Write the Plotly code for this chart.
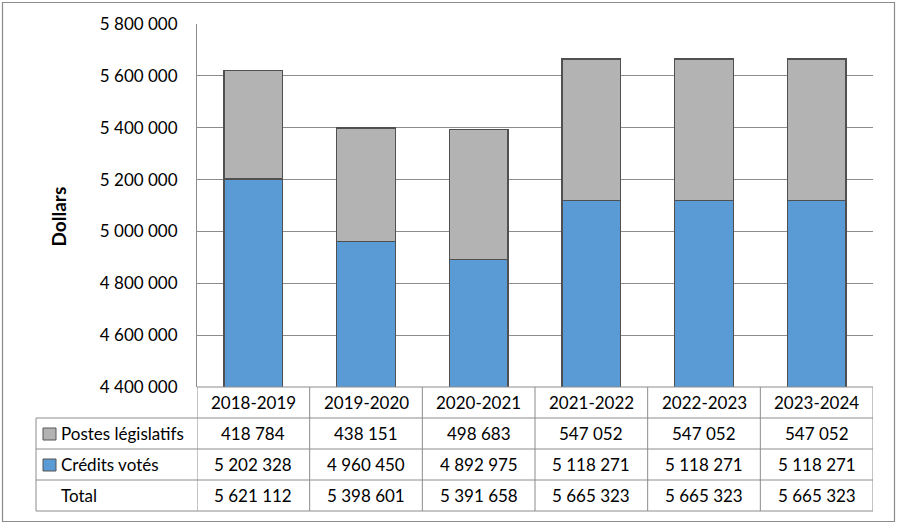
import plotly.graph_objects as go

years = ["2018-2019", "2019-2020", "2020-2021", "2021-2022", "2022-2023", "2023-2024"]
postes_legislatifs = [418784, 438151, 498683, 547052, 547052, 547052]
credits_votes = [5202328, 4960450, 4892975, 5118271, 5118271, 5118271]
totals = [5621112, 5398601, 5391658, 5665323, 5665323, 5665323]
row_labels = ["Postes législatifs", "Crédits votés", "Total"]
y_title = "Dollars"

BLUE = "#5B9BD5"
GRAY = "#B3B3B3"
EDGE = "#505050"
LINE = "#8C8C8C"
FONT = "Lato"
FS = 17

W, H = 898, 527
L, R, T, B = 197, 25, 24, 140
PH = H - T - B
PW = W - L - R


def py(p):
    return (H - B - p) / PH


def px(p):
    return (p - L) / PW


def fmt(v):
    return f"{v:,}".replace(",", " ")


fig = go.Figure()
fig.add_trace(go.Bar(x=years, y=credits_votes, name=row_labels[1],
                     marker=dict(color=BLUE, line=dict(color=EDGE, width=1.2)), width=0.52))
fig.add_trace(go.Bar(x=years, y=postes_legislatifs, name=row_labels[0],
                     marker=dict(color=GRAY, line=dict(color=EDGE, width=1.2)), width=0.52))

fig.update_layout(
    barmode="stack",
    width=W, height=H,
    margin=dict(l=L, r=R, t=T, b=B),
    paper_bgcolor="white", plot_bgcolor="white",
    showlegend=False,
    separators=", ",
    font=dict(family=FONT, size=FS, color="black"),
)
fig.update_yaxes(range=[4400000, 5800000], dtick=200000, tickformat=",d",
                 showgrid=True, gridcolor=LINE, gridwidth=1,
                 showline=True, linecolor=LINE, linewidth=1, ticks="",
                 tickfont=dict(family=FONT, size=FS, color="black"), ticklabelstandoff=15,
                 zeroline=False)
fig.update_xaxes(range=[-0.5, 5.5], showticklabels=False, showline=False, ticks="",
                 showgrid=False, zeroline=False)

shapes = []
# outer border
shapes.append(dict(type="rect", xref="paper", yref="paper",
                   x0=px(2.5), x1=px(894.5), y0=py(521.5), y1=py(2.5),
                   line=dict(color="#8C8C8C", width=1.2), layer="below"))
# table horizontal lines
row_y = [418, 449, 480, 511]
shapes.append(dict(type="line", xref="x", yref="paper", x0=-0.5, x1=5.5, y0=0, y1=0,
                   line=dict(color=LINE, width=1)))
for ry in row_y:
    shapes.append(dict(type="line", xref="paper", yref="paper", x0=px(36), x1=1,
                       y0=py(ry), y1=py(ry), line=dict(color=LINE, width=1)))
# vertical lines
shapes.append(dict(type="line", xref="paper", yref="paper", x0=px(36), x1=px(36),
                   y0=py(418), y1=py(511), line=dict(color=LINE, width=1)))
for i in range(len(years) + 1):
    shapes.append(dict(type="line", xref="x", yref="paper", x0=i - 0.5, x1=i - 0.5,
                       y0=0, y1=py(511), line=dict(color=LINE, width=1)))
# legend keys
for ry, col in [(418, GRAY), (449, BLUE)]:
    shapes.append(dict(type="rect", xref="paper", yref="paper",
                       x0=px(43), x1=px(56), y0=py(ry + 22), y1=py(ry + 10),
                       fillcolor=col, line=dict(color="#555555", width=1)))
fig.update_layout(shapes=shapes)

ann = []
header_c = (387 + 418) / 2
row_c = [(a + b) / 2 for a, b in zip(row_y[:-1], row_y[1:])]
for i, yr in enumerate(years):
    ann.append(dict(x=yr, y=py(header_c), xref="x", yref="paper", text=yr,
                    xanchor="center", yanchor="middle", showarrow=False, font=dict(size=FS)))
    for rc, vals in zip(row_c, [postes_legislatifs, credits_votes, totals]):
        ann.append(dict(x=yr, y=py(rc), xref="x", yref="paper", text=fmt(vals[i]),
                        xanchor="center", yanchor="middle", showarrow=False, font=dict(size=FS)))
for rc, lab in zip(row_c, row_labels):
    ann.append(dict(x=px(59), y=py(rc), xref="paper", yref="paper", text=lab,
                    xanchor="left", yanchor="middle", showarrow=False, font=dict(size=FS)))
ann.append(dict(x=px(58.5), y=py(217), xref="paper", yref="paper", text="<b>" + y_title + "</b>",
                textangle=-90, xanchor="center", yanchor="middle", showarrow=False,
                font=dict(size=19)))
fig.update_layout(annotations=ann)

fig.write_html("out.html", config={"displayModeBar": False},
               post_script="document.body.style.margin='0px';")
